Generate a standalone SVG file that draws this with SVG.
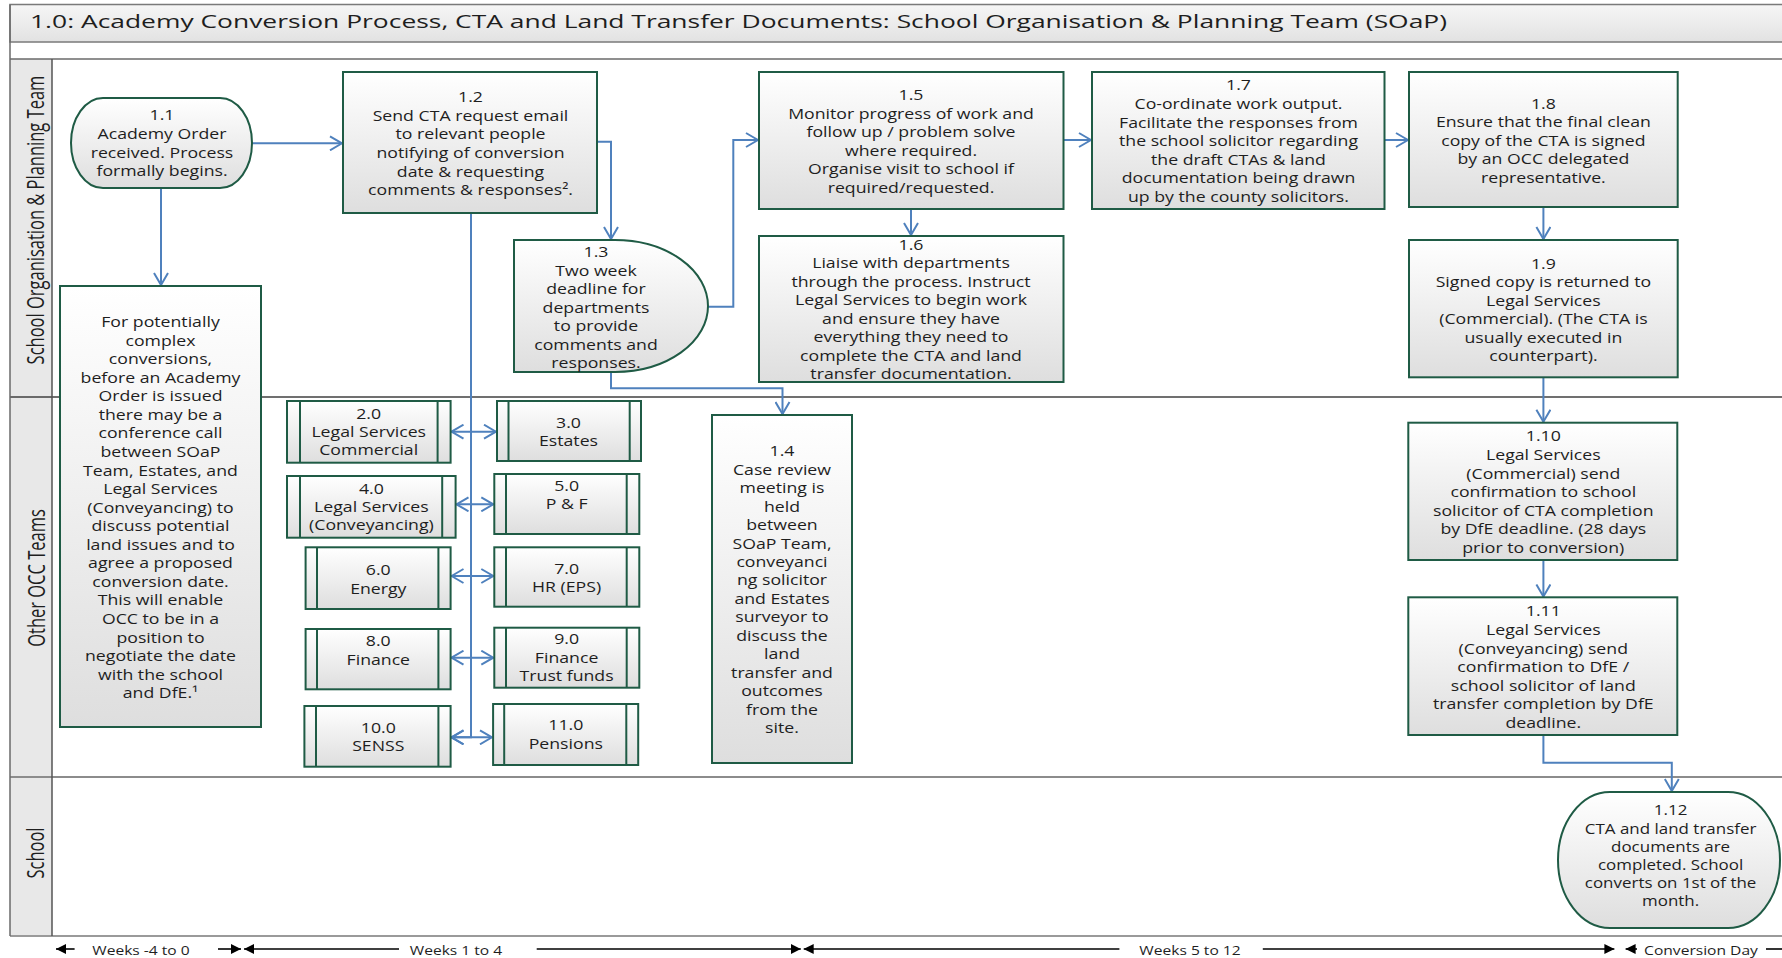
<svg xmlns="http://www.w3.org/2000/svg" width="1782" height="958" viewBox="0 0 1782 958">
<defs>
<linearGradient id="gf" x1="0" y1="0" x2="0" y2="1"><stop offset="0" stop-color="#ffffff"/><stop offset="1" stop-color="#dedede"/></linearGradient>
<linearGradient id="gt" x1="0" y1="0" x2="0" y2="1"><stop offset="0" stop-color="#f6f6f6"/><stop offset="1" stop-color="#e2e2e2"/></linearGradient>
<marker id="ah" viewBox="0 0 14 16" refX="13" refY="8" markerWidth="14" markerHeight="16" markerUnits="userSpaceOnUse" orient="auto-start-reverse"><path d="M1,1 L13,8 L1,15" fill="none" stroke="#4f81bd" stroke-width="2"/></marker>
<marker id="tk" viewBox="0 0 10 10" refX="10" refY="5" markerWidth="10" markerHeight="10" markerUnits="userSpaceOnUse" orient="auto-start-reverse"><path d="M0,0 L10,5 L0,10 Z" fill="#000"/></marker>
<style>
.box{fill:url(#gf);stroke:#1f5b45;stroke-width:2}
.in{fill:none;stroke:#1f5b45;stroke-width:2}
.t{font-family:"Open Sans","Liberation Sans",sans-serif;font-size:15px;text-anchor:middle;fill:#1e1e1e}
.lane{font-family:"Open Sans","Liberation Sans",sans-serif;font-size:16.5px;text-anchor:middle;fill:#1e1e1e}
.tl{font-family:"Open Sans","Liberation Sans",sans-serif;font-size:13px;text-anchor:middle;fill:#1e1e1e}
.c{fill:none;stroke:#4f81bd;stroke-width:2}
.cm{marker-end:url(#ah)}
.cd{marker-start:url(#ah);marker-end:url(#ah)}
.tk{fill:none;stroke:#000;stroke-width:1.6;marker-end:url(#tk)}
</style>
</defs>
<rect x="0" y="0" width="1782" height="958" fill="#ffffff"/>

<g id="pool">
<rect x="10" y="4.5" width="1790" height="37.5" fill="url(#gt)" stroke="#7a7a7a" stroke-width="1.5"/>
<rect x="10" y="59" width="42" height="877" fill="#e8e8e8"/>
<line x1="10" y1="59" x2="1782" y2="59" stroke="#6a6a6a" stroke-width="1.5"/>
<line x1="10" y1="397" x2="1782" y2="397" stroke="#404040" stroke-width="1.5"/>
<line x1="10" y1="777" x2="1782" y2="777" stroke="#8c8c8c" stroke-width="2"/>
<line x1="10" y1="936" x2="1782" y2="936" stroke="#9a9a9a" stroke-width="2"/>
<line x1="10" y1="4.5" x2="10" y2="936" stroke="#6a6a6a" stroke-width="1.5"/>
<line x1="52" y1="59" x2="52" y2="936" stroke="#555" stroke-width="1.5"/>
<text x="30" y="27.5" font-family="'Open Sans','Liberation Sans',sans-serif" font-size="19" fill="#1e1e1e" textLength="1417" lengthAdjust="spacingAndGlyphs">1.0: Academy Conversion Process, CTA and Land Transfer Documents: School Organisation &amp; Planning Team (SOaP)</text>
<text class="lane" transform="translate(44,220) scale(1.4,1) rotate(-90)">School Organisation &amp; Planning Team</text>
<text class="lane" transform="translate(44.5,578) scale(1.4,1) rotate(-90)">Other OCC Teams</text>
<text class="lane" transform="translate(43.5,853) scale(1.4,1) rotate(-90)">School</text>
</g>

<g id="connectors">
<path class="c cm" d="M252,143.3 H342"/>
<path class="c cm" d="M161,188 V285"/>
<path class="c cm" d="M597,141.7 H611 V239"/>
<path class="c cm" d="M611,372 V388.3 H782.5 V414"/>
<path class="c cm" d="M708,306.7 H733.3 V140 H758"/>
<path class="c cm" d="M911,209 V235"/>
<path class="c cm" d="M1063.5,140 H1091"/>
<path class="c cm" d="M1384.5,140 H1408"/>
<path class="c cm" d="M1543.4,207 V239"/>
<path class="c cm" d="M1543.4,377.3 V421.7"/>
<path class="c cm" d="M1543.4,560 V596.5"/>
<path class="c cm" d="M1543.4,735 V762.7 H1671.8 V791"/>
<path class="c cm" d="M471,213 V737.3 H451.5"/>
<path class="c cd" d="M451.5,431.7 H496"/>
<path class="c cd" d="M456.5,504.3 H493.3"/>
<path class="c cd" d="M451.5,576 H493.3"/>
<path class="c cd" d="M451.5,657.7 H493.3"/>
<path class="c cd" d="M451.5,737.3 H492"/>
</g>

<g id="n1_1">
<rect class="box" x="71" y="98" width="181" height="90" rx="32" ry="45"/>
<text class="t" transform="matrix(1.18 0 0 1 -29.16 0)"><tspan x="162" y="120.5">1.1</tspan><tspan x="162" dy="18.6">Academy Order</tspan><tspan x="162" dy="18.6">received. Process</tspan><tspan x="162" dy="18.6">formally begins.</tspan></text>
</g>

<g id="n1_2">
<rect class="box" x="343" y="72" width="254" height="141"/>
<text class="t" transform="matrix(1.18 0 0 1 -84.69 0)"><tspan x="470.5" y="102.2">1.2</tspan><tspan x="470.5" dy="18.6">Send CTA request email</tspan><tspan x="470.5" dy="18.6">to relevant people</tspan><tspan x="470.5" dy="18.6">notifying of conversion</tspan><tspan x="470.5" dy="18.6">date &amp; requesting</tspan><tspan x="470.5" dy="18.6">comments &amp; responses².</tspan></text>
</g>

<g id="n_pre">
<rect class="box" x="60" y="286" width="201" height="441"/>
<text class="t" transform="matrix(1.18 0 0 1 -28.89 0)"><tspan x="160.5" y="327.2">For potentially</tspan><tspan x="160.5" dy="18.55">complex</tspan><tspan x="160.5" dy="18.55">conversions,</tspan><tspan x="160.5" dy="18.55">before an Academy</tspan><tspan x="160.5" dy="18.55">Order is issued</tspan><tspan x="160.5" dy="18.55">there may be a</tspan><tspan x="160.5" dy="18.55">conference call</tspan><tspan x="160.5" dy="18.55">between SOaP</tspan><tspan x="160.5" dy="18.55">Team, Estates, and</tspan><tspan x="160.5" dy="18.55">Legal Services</tspan><tspan x="160.5" dy="18.55">(Conveyancing) to</tspan><tspan x="160.5" dy="18.55">discuss potential</tspan><tspan x="160.5" dy="18.55">land issues and to</tspan><tspan x="160.5" dy="18.55">agree a proposed</tspan><tspan x="160.5" dy="18.55">conversion date.</tspan><tspan x="160.5" dy="18.55">This will enable</tspan><tspan x="160.5" dy="18.55">OCC to be in a</tspan><tspan x="160.5" dy="18.55">position to</tspan><tspan x="160.5" dy="18.55">negotiate the date</tspan><tspan x="160.5" dy="18.55">with the school</tspan><tspan x="160.5" dy="18.55">and DfE.¹</tspan></text>
</g>

<g id="n1_3">
<path class="box" d="M514,240 H615 A93,66 0 0 1 615,372 H514 Z"/>
<text class="t" transform="matrix(1.18 0 0 1 -107.28 0)"><tspan x="596" y="257.2">1.3</tspan><tspan x="596" dy="18.5">Two week</tspan><tspan x="596" dy="18.5">deadline for</tspan><tspan x="596" dy="18.5">departments</tspan><tspan x="596" dy="18.5">to provide</tspan><tspan x="596" dy="18.5">comments and</tspan><tspan x="596" dy="18.5">responses.</tspan></text>
</g>

<g id="n1_4">
<rect class="box" x="712" y="415" width="140" height="348"/>
<text class="t" transform="matrix(1.18 0 0 1 -140.76 0)"><tspan x="782" y="456.2">1.4</tspan><tspan x="782" dy="18.47">Case review</tspan><tspan x="782" dy="18.47">meeting is</tspan><tspan x="782" dy="18.47">held</tspan><tspan x="782" dy="18.47">between</tspan><tspan x="782" dy="18.47">SOaP Team,</tspan><tspan x="782" dy="18.47">conveyanci</tspan><tspan x="782" dy="18.47">ng solicitor</tspan><tspan x="782" dy="18.47">and Estates</tspan><tspan x="782" dy="18.47">surveyor to</tspan><tspan x="782" dy="18.47">discuss the</tspan><tspan x="782" dy="18.47">land</tspan><tspan x="782" dy="18.47">transfer and</tspan><tspan x="782" dy="18.47">outcomes</tspan><tspan x="782" dy="18.47">from the</tspan><tspan x="782" dy="18.47">site.</tspan></text>
</g>

<g id="n1_5">
<rect class="box" x="759" y="72" width="304.5" height="137"/>
<text class="t" transform="matrix(1.18 0 0 1 -163.98 0)"><tspan x="911" y="100.5">1.5</tspan><tspan x="911" dy="18.46">Monitor progress of work and</tspan><tspan x="911" dy="18.46">follow up / problem solve</tspan><tspan x="911" dy="18.46">where required.</tspan><tspan x="911" dy="18.46">Organise visit to school if</tspan><tspan x="911" dy="18.46">required/requested.</tspan></text>
</g>

<g id="n1_6">
<rect class="box" x="759" y="236" width="304.5" height="146"/>
<text class="t" transform="matrix(1.18 0 0 1 -163.98 0)"><tspan x="911" y="249.8">1.6</tspan><tspan x="911" dy="18.53">Liaise with departments</tspan><tspan x="911" dy="18.53">through the process. Instruct</tspan><tspan x="911" dy="18.53">Legal Services to begin work</tspan><tspan x="911" dy="18.53">and ensure they have</tspan><tspan x="911" dy="18.53">everything they need to</tspan><tspan x="911" dy="18.53">complete the CTA and land</tspan><tspan x="911" dy="18.53">transfer documentation.</tspan></text>
</g>

<g id="n1_7">
<rect class="box" x="1092" y="72" width="292.5" height="137"/>
<text class="t" transform="matrix(1.18 0 0 1 -222.93 0)"><tspan x="1238.5" y="90.5">1.7</tspan><tspan x="1238.5" dy="18.6">Co-ordinate work output.</tspan><tspan x="1238.5" dy="18.6">Facilitate the responses from</tspan><tspan x="1238.5" dy="18.6">the school solicitor regarding</tspan><tspan x="1238.5" dy="18.6">the draft CTAs &amp; land</tspan><tspan x="1238.5" dy="18.6">documentation being drawn</tspan><tspan x="1238.5" dy="18.6">up by the county solicitors.</tspan></text>
</g>

<g id="n1_8">
<rect class="box" x="1409" y="72" width="268.7" height="135"/>
<text class="t" transform="matrix(1.18 0 0 1 -277.81 0)"><tspan x="1543.4" y="108.8">1.8</tspan><tspan x="1543.4" dy="18.5">Ensure that the final clean</tspan><tspan x="1543.4" dy="18.5">copy of the CTA is signed</tspan><tspan x="1543.4" dy="18.5">by an OCC delegated</tspan><tspan x="1543.4" dy="18.5">representative.</tspan></text>
</g>

<g id="n1_9">
<rect class="box" x="1409" y="240" width="268.7" height="137.3"/>
<text class="t" transform="matrix(1.18 0 0 1 -277.81 0)"><tspan x="1543.4" y="268.8">1.9</tspan><tspan x="1543.4" dy="18.54">Signed copy is returned to</tspan><tspan x="1543.4" dy="18.54">Legal Services</tspan><tspan x="1543.4" dy="18.54">(Commercial). (The CTA is</tspan><tspan x="1543.4" dy="18.54">usually executed in</tspan><tspan x="1543.4" dy="18.54">counterpart).</tspan></text>
</g>

<g id="n1_10">
<rect class="box" x="1408.3" y="422.7" width="269" height="137.3"/>
<text class="t" transform="matrix(1.18 0 0 1 -277.79 0)"><tspan x="1543.3" y="441.5">1.10</tspan><tspan x="1543.3" dy="18.55">Legal Services</tspan><tspan x="1543.3" dy="18.55">(Commercial) send</tspan><tspan x="1543.3" dy="18.55">confirmation to school</tspan><tspan x="1543.3" dy="18.55">solicitor of CTA completion</tspan><tspan x="1543.3" dy="18.55">by DfE deadline. (28 days</tspan><tspan x="1543.3" dy="18.55">prior to conversion)</tspan></text>
</g>

<g id="n1_11">
<rect class="box" x="1408.3" y="597.3" width="269" height="137.7"/>
<text class="t" transform="matrix(1.18 0 0 1 -277.79 0)"><tspan x="1543.3" y="616.5">1.11</tspan><tspan x="1543.3" dy="18.55">Legal Services</tspan><tspan x="1543.3" dy="18.55">(Conveyancing) send</tspan><tspan x="1543.3" dy="18.55">confirmation to DfE /</tspan><tspan x="1543.3" dy="18.55">school solicitor of land</tspan><tspan x="1543.3" dy="18.55">transfer completion by DfE</tspan><tspan x="1543.3" dy="18.55">deadline.</tspan></text>
</g>

<g id="n1_12">
<path class="box" d="M1610,792 H1728 A52,68 0 0 1 1728,928 H1610 A52,68 0 0 1 1610,792 Z"/>
<text class="t" transform="matrix(1.13 0 0 1 -217.18 0)"><tspan x="1670.6" y="815.5">1.12</tspan><tspan x="1670.6" dy="18.2">CTA and land transfer</tspan><tspan x="1670.6" dy="18.2">documents are</tspan><tspan x="1670.6" dy="18.2">completed. School</tspan><tspan x="1670.6" dy="18.2">converts on 1st of the</tspan><tspan x="1670.6" dy="18.2">month.</tspan></text>
</g>

<g id="n2_0">
<rect class="box" x="287" y="401" width="163.6" height="61.7"/>
<path class="in" d="M300,401 V462.7 M437.6,401 V462.7"/>
<text class="t" transform="matrix(1.18 0 0 1 -66.37 0)"><tspan x="368.7" y="418.8">2.0</tspan><tspan x="368.7" dy="18.35">Legal Services</tspan><tspan x="368.7" dy="18.35">Commercial</tspan></text>
</g>
<g id="n3_0">
<rect class="box" x="497" y="401" width="144" height="60"/>
<path class="in" d="M508.5,401 V461 M629.7,401 V461"/>
<text class="t" transform="matrix(1.18 0 0 1 -102.33 0)"><tspan x="568.5" y="427.8">3.0</tspan><tspan x="568.5" dy="18.7">Estates</tspan></text>
</g>
<g id="n4_0">
<rect class="box" x="287" y="476" width="168.6" height="61.7"/>
<path class="in" d="M300,476 V537.7 M442.2,476 V537.7"/>
<text class="t" transform="matrix(1.18 0 0 1 -66.85 0)"><tspan x="371.4" y="493.8">4.0</tspan><tspan x="371.4" dy="18.35">Legal Services</tspan><tspan x="371.4" dy="18.35">(Conveyancing)</tspan></text>
</g>
<g id="n5_0">
<rect class="box" x="494.3" y="474" width="145" height="60"/>
<path class="in" d="M506,474 V534 M626.7,474 V534"/>
<text class="t" transform="matrix(1.18 0 0 1 -101.99 0)"><tspan x="566.6" y="491.2">5.0</tspan><tspan x="566.6" dy="18.3">P &amp; F</tspan></text>
</g>
<g id="n6_0">
<rect class="box" x="305.6" y="547.3" width="145" height="61.7"/>
<path class="in" d="M317,547.3 V609 M438.4,547.3 V609"/>
<text class="t" transform="matrix(1.18 0 0 1 -68.09 0)"><tspan x="378.3" y="575.5">6.0</tspan><tspan x="378.3" dy="18.3">Energy</tspan></text>
</g>
<g id="n7_0">
<rect class="box" x="494.3" y="547.3" width="145" height="59.4"/>
<path class="in" d="M506,547.3 V606.7 M626.7,547.3 V606.7"/>
<text class="t" transform="matrix(1.18 0 0 1 -101.99 0)"><tspan x="566.6" y="573.8">7.0</tspan><tspan x="566.6" dy="18.4">HR (EPS)</tspan></text>
</g>
<g id="n8_0">
<rect class="box" x="305.6" y="629" width="145" height="60.3"/>
<path class="in" d="M317,629 V689.3 M438.4,629 V689.3"/>
<text class="t" transform="matrix(1.18 0 0 1 -68.09 0)"><tspan x="378.3" y="646.2">8.0</tspan><tspan x="378.3" dy="18.6">Finance</tspan></text>
</g>
<g id="n9_0">
<rect class="box" x="494.3" y="627.7" width="145" height="60"/>
<path class="in" d="M506,627.7 V687.7 M626.7,627.7 V687.7"/>
<text class="t" transform="matrix(1.18 0 0 1 -101.99 0)"><tspan x="566.6" y="644.5">9.0</tspan><tspan x="566.6" dy="18.5">Finance</tspan><tspan x="566.6" dy="18.5">Trust funds</tspan></text>
</g>
<g id="n10_0">
<rect class="box" x="304.4" y="706" width="146.2" height="60.7"/>
<path class="in" d="M316,706 V766.7 M438.4,706 V766.7"/>
<text class="t" transform="matrix(1.18 0 0 1 -68.09 0)"><tspan x="378.3" y="733.2">10.0</tspan><tspan x="378.3" dy="18.3">SENSS</tspan></text>
</g>
<g id="n11_0">
<rect class="box" x="493.1" y="704" width="145.1" height="61"/>
<path class="in" d="M504.2,704 V765 M626.3,704 V765"/>
<text class="t" transform="matrix(1.18 0 0 1 -101.84 0)"><tspan x="565.8" y="730.5">11.0</tspan><tspan x="565.8" dy="19">Pensions</tspan></text>
</g>

<g id="timeline">
<path class="tk" d="M74.6,949 H56"/>
<path class="tk" d="M218,949 H241"/>
<path class="tk" d="M399,949 H244"/>
<path class="tk" d="M536.7,949 H800.8"/>
<path class="tk" d="M1119.4,949 H803.7"/>
<path class="tk" d="M1262.8,949 H1614.4"/>
<path class="tk" d="M1637,949 H1625.6"/>
<line x1="1766" y1="949" x2="1782" y2="949" stroke="#000" stroke-width="1.6"/>
<text class="tl" transform="matrix(1.2 0 0 1 -28.2 0)" x="141" y="955.5">Weeks -4 to 0</text>
<text class="tl" transform="matrix(1.2 0 0 1 -91.2 0)" x="456" y="955.5">Weeks 1 to 4</text>
<text class="tl" transform="matrix(1.2 0 0 1 -238 0)" x="1190" y="955.5">Weeks 5 to 12</text>
<text class="tl" transform="matrix(1.2 0 0 1 -340.2 0)" x="1701" y="955.5">Conversion Day</text>
</g>
</svg>
